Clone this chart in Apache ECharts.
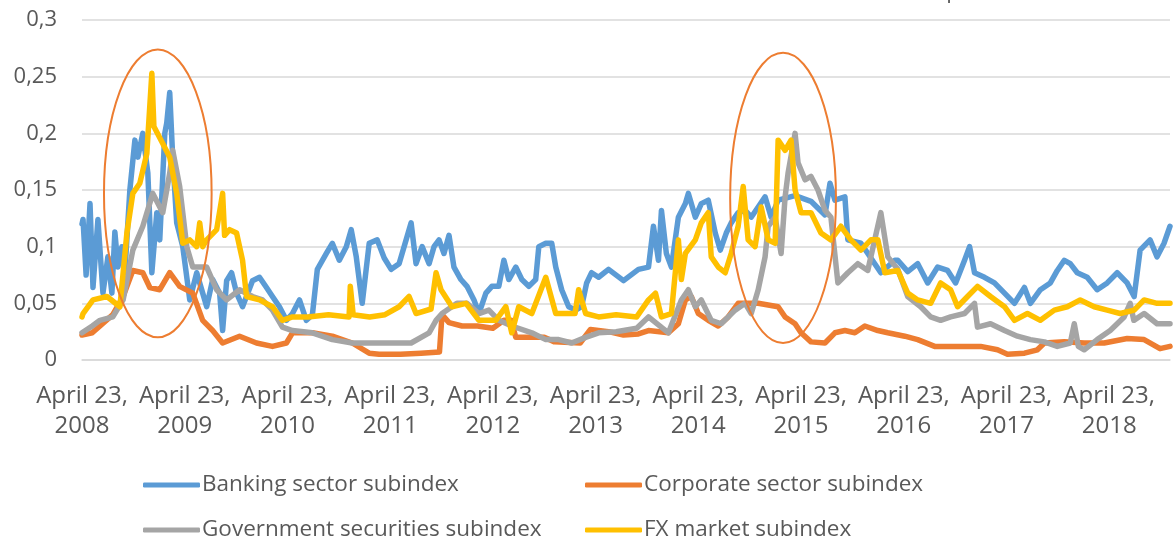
<!DOCTYPE html>
<html><head><meta charset="utf-8">
<script src="https://cdn.jsdelivr.net/npm/echarts@6/dist/echarts.min.js"></script>
<style>html,body{margin:0;padding:0;background:#fff;overflow:hidden}#c{width:1173px;height:541px}</style>
</head><body><div id="c"></div>
<script>
// x values: years elapsed since April 23, 2008; y values: subindex level
const startYear = 2008;
const yTicks = [0, 0.05, 0.1, 0.15, 0.2, 0.25, 0.3];
const seriesNames = ['Banking sector subindex','Corporate sector subindex','Government securities subindex','FX market subindex'];

const banking = [[0,0.120],[0.010,0.124],[0.040,0.075],[0.078,0.138],[0.107,0.064],[0.155,0.124],[0.204,0.059],[0.252,0.091],[0.291,0.059],[0.320,0.113],[0.350,0.082],[0.388,0.100],[0.417,0.077],[0.466,0.150],[0.515,0.194],[0.544,0.179],[0.592,0.200],[0.641,0.165],[0.680,0.077],[0.728,0.130],[0.757,0.106],[0.806,0.200],[0.825,0.209],[0.854,0.236],[0.883,0.179],[0.922,0.121],[0.981,0.100],[1.049,0.053],[1.117,0.077],[1.175,0.059],[1.214,0.047],[1.272,0.071],[1.340,0.059],[1.369,0.026],[1.408,0.070],[1.456,0.077],[1.505,0.059],[1.563,0.047],[1.660,0.070],[1.728,0.073],[1.796,0.064],[1.854,0.056],[1.922,0.047],[1.990,0.035],[2.049,0.041],[2.117,0.053],[2.184,0.035],[2.243,0.040],[2.291,0.080],[2.379,0.094],[2.437,0.103],[2.505,0.088],[2.573,0.100],[2.621,0.115],[2.670,0.091],[2.728,0.050],[2.796,0.103],[2.874,0.106],[2.942,0.090],[3.010,0.080],[3.087,0.085],[3.204,0.121],[3.252,0.085],[3.311,0.100],[3.379,0.085],[3.427,0.100],[3.476,0.106],[3.524,0.094],[3.573,0.110],[3.621,0.082],[3.689,0.071],[3.748,0.065],[3.816,0.053],[3.864,0.041],[3.932,0.059],[3.990,0.065],[4.058,0.065],[4.107,0.088],[4.155,0.071],[4.223,0.082],[4.282,0.071],[4.350,0.065],[4.417,0.071],[4.447,0.100],[4.515,0.103],[4.573,0.103],[4.612,0.082],[4.670,0.062],[4.738,0.047],[4.806,0.044],[4.864,0.047],[4.913,0.068],[4.961,0.077],[5.029,0.073],[5.126,0.080],[5.272,0.070],[5.417,0.080],[5.515,0.082],[5.563,0.118],[5.612,0.088],[5.641,0.132],[5.689,0.094],[5.738,0.082],[5.806,0.126],[5.874,0.138],[5.903,0.147],[5.971,0.126],[6.029,0.138],[6.097,0.141],[6.165,0.112],[6.214,0.097],[6.272,0.112],[6.320,0.121],[6.388,0.130],[6.456,0.132],[6.515,0.126],[6.583,0.135],[6.650,0.144],[6.709,0.126],[6.777,0.141],[6.942,0.145],[7.097,0.140],[7.233,0.128],[7.282,0.156],[7.330,0.141],[7.427,0.144],[7.456,0.106],[7.583,0.103],[7.777,0.077],[7.913,0.088],[7.942,0.088],[8.039,0.078],[8.136,0.085],[8.233,0.068],[8.330,0.082],[8.427,0.079],[8.505,0.068],[8.592,0.088],[8.641,0.100],[8.689,0.077],[8.786,0.073],[8.883,0.068],[8.981,0.059],[9.078,0.050],[9.175,0.064],[9.233,0.050],[9.330,0.062],[9.427,0.068],[9.495,0.079],[9.563,0.088],[9.621,0.085],[9.689,0.077],[9.786,0.073],[9.883,0.062],[9.981,0.068],[10.078,0.077],[10.175,0.068],[10.243,0.056],[10.301,0.097],[10.398,0.106],[10.466,0.091],[10.534,0.103],[10.592,0.118]];

const corporate = [[0,0.022],[0.100,0.024],[0.175,0.030],[0.300,0.040],[0.400,0.056],[0.495,0.079],[0.592,0.077],[0.660,0.064],[0.757,0.062],[0.854,0.077],[0.951,0.065],[1.078,0.059],[1.175,0.035],[1.272,0.026],[1.369,0.015],[1.534,0.021],[1.699,0.015],[1.854,0.012],[1.990,0.015],[2.049,0.024],[2.243,0.024],[2.437,0.021],[2.631,0.015],[2.796,0.006],[2.893,0.005],[3.100,0.005],[3.300,0.006],[3.480,0.007],[3.505,0.040],[3.573,0.033],[3.700,0.030],[3.850,0.030],[4.000,0.028],[4.107,0.035],[4.180,0.035],[4.223,0.020],[4.500,0.020],[4.600,0.016],[4.850,0.015],[4.950,0.027],[5.126,0.025],[5.272,0.022],[5.417,0.023],[5.515,0.026],[5.709,0.024],[5.806,0.032],[5.874,0.053],[5.932,0.056],[6.000,0.041],[6.097,0.035],[6.194,0.030],[6.291,0.038],[6.388,0.050],[6.583,0.050],[6.777,0.047],[6.845,0.038],[6.942,0.032],[7.000,0.024],[7.097,0.016],[7.233,0.015],[7.330,0.024],[7.427,0.026],[7.524,0.024],[7.621,0.030],[7.748,0.026],[7.845,0.024],[8.010,0.021],[8.136,0.018],[8.301,0.012],[8.524,0.012],[8.748,0.012],[8.913,0.009],[9.010,0.005],[9.175,0.006],[9.301,0.009],[9.369,0.015],[9.563,0.016],[9.757,0.015],[9.951,0.015],[10.175,0.019],[10.340,0.018],[10.495,0.010],[10.592,0.012]];

const government = [[0,0.024],[0.100,0.030],[0.175,0.035],[0.300,0.038],[0.400,0.053],[0.495,0.097],[0.592,0.118],[0.689,0.147],[0.786,0.130],[0.854,0.165],[0.883,0.185],[0.951,0.153],[1.020,0.100],[1.078,0.082],[1.214,0.082],[1.311,0.062],[1.408,0.053],[1.534,0.062],[1.660,0.056],[1.757,0.053],[1.854,0.044],[1.951,0.029],[2.049,0.026],[2.243,0.024],[2.437,0.018],[2.631,0.015],[2.825,0.015],[3.000,0.015],[3.204,0.015],[3.379,0.024],[3.447,0.035],[3.505,0.041],[3.650,0.050],[3.748,0.050],[3.864,0.041],[3.961,0.044],[4.058,0.035],[4.184,0.030],[4.379,0.024],[4.515,0.018],[4.641,0.018],[4.767,0.015],[4.903,0.020],[5.029,0.024],[5.200,0.025],[5.400,0.028],[5.515,0.038],[5.709,0.024],[5.835,0.053],[5.903,0.062],[5.971,0.047],[6.029,0.053],[6.126,0.035],[6.223,0.032],[6.359,0.044],[6.456,0.050],[6.515,0.041],[6.583,0.062],[6.650,0.091],[6.680,0.118],[6.748,0.126],[6.806,0.094],[6.845,0.144],[6.874,0.165],[6.942,0.200],[6.971,0.174],[7.039,0.159],[7.097,0.162],[7.165,0.150],[7.233,0.132],[7.291,0.126],[7.359,0.068],[7.456,0.077],[7.553,0.085],[7.650,0.079],[7.777,0.130],[7.845,0.091],[7.942,0.080],[8.039,0.056],[8.165,0.047],[8.262,0.038],[8.359,0.035],[8.456,0.038],[8.592,0.041],[8.689,0.050],[8.718,0.029],[8.845,0.032],[8.981,0.026],[9.107,0.021],[9.233,0.018],[9.369,0.016],[9.495,0.012],[9.621,0.015],[9.660,0.032],[9.700,0.012],[9.757,0.009],[9.883,0.018],[10.010,0.026],[10.146,0.038],[10.204,0.050],[10.240,0.035],[10.340,0.041],[10.466,0.032],[10.592,0.032]];

const fxMarket = [[0,0.038],[0.010,0.041],[0.107,0.053],[0.243,0.056],[0.369,0.047],[0.437,0.112],[0.495,0.147],[0.563,0.156],[0.631,0.182],[0.680,0.253],[0.700,0.206],[0.786,0.191],[0.854,0.179],[0.922,0.147],[0.981,0.103],[1.049,0.106],[1.117,0.100],[1.146,0.121],[1.175,0.100],[1.214,0.106],[1.311,0.115],[1.369,0.147],[1.388,0.110],[1.437,0.115],[1.505,0.112],[1.563,0.088],[1.602,0.056],[1.728,0.053],[1.854,0.047],[1.951,0.035],[2.049,0.038],[2.200,0.038],[2.400,0.040],[2.600,0.038],[2.612,0.065],[2.640,0.040],[2.800,0.038],[2.950,0.040],[3.087,0.047],[3.184,0.056],[3.252,0.041],[3.398,0.045],[3.447,0.077],[3.495,0.062],[3.602,0.047],[3.738,0.050],[3.864,0.035],[4.029,0.035],[4.126,0.047],[4.184,0.024],[4.252,0.047],[4.379,0.041],[4.515,0.073],[4.612,0.041],[4.800,0.041],[4.835,0.062],[4.903,0.041],[5.029,0.038],[5.200,0.040],[5.400,0.038],[5.515,0.053],[5.583,0.059],[5.641,0.038],[5.738,0.041],[5.806,0.106],[5.835,0.071],[5.874,0.094],[5.971,0.106],[6.029,0.121],[6.097,0.130],[6.126,0.091],[6.194,0.082],[6.262,0.077],[6.320,0.094],[6.388,0.118],[6.437,0.153],[6.485,0.106],[6.553,0.100],[6.612,0.135],[6.680,0.106],[6.748,0.103],[6.777,0.194],[6.845,0.185],[6.903,0.194],[6.942,0.150],[7.000,0.130],[7.097,0.130],[7.194,0.112],[7.291,0.106],[7.388,0.118],[7.485,0.106],[7.583,0.097],[7.680,0.106],[7.748,0.106],[7.816,0.077],[7.942,0.079],[8.039,0.059],[8.136,0.053],[8.262,0.050],[8.359,0.068],[8.456,0.062],[8.524,0.047],[8.621,0.056],[8.718,0.065],[8.845,0.056],[8.981,0.047],[9.078,0.035],[9.204,0.041],[9.330,0.035],[9.466,0.044],[9.592,0.047],[9.718,0.053],[9.854,0.047],[9.981,0.044],[10.107,0.041],[10.243,0.044],[10.340,0.053],[10.466,0.050],[10.592,0.050]];

// highlighted crisis periods: [centerX, centerY, halfWidthYears, halfHeight]
const crisisEllipses = [[0.738, 0.147, 0.524, 0.127],[6.825, 0.143, 0.515, 0.128]];

const colors = ['#5B9BD5','#ED7D31','#A5A5A5','#FFC000'];
const FONT = '"Open Sans", "Noto Sans", sans-serif';
const TXT = '#595959';
const allData = [banking, corporate, government, fxMarket];

const chart = echarts.init(document.getElementById('c'), null, {renderer:'canvas'});
const legendBase = {orient:'vertical', top:472, height:90, padding:0, itemGap:19, itemWidth:57, itemHeight:5, icon:'roundRect',
  textStyle:{fontSize:22.5, color:TXT, fontFamily:FONT, lineHeight:26, padding:[0,0,0,-3]}};
chart.setOption({
  animation:false,
  color: colors,
  grid:{left:82, right:0, top:20, bottom:181, containLabel:false},
  legend:[
    Object.assign({left:143, data:[seriesNames[0], seriesNames[2]]}, legendBase),
    Object.assign({left:585, data:[seriesNames[1], seriesNames[3]]}, legendBase)
  ],
  xAxis:{type:'value', min:0, max:10.592, interval:1,
    axisLine:{show:true, lineStyle:{color:'#D9D9D9', width:1.5}},
    axisTick:{show:false}, splitLine:{show:false},
    axisLabel:{margin:21, fontSize:24, lineHeight:30, color:TXT, fontFamily:FONT,
      formatter: v => (Math.abs(v - Math.round(v)) < 1e-6) ? ('April 23,\n' + (startYear + Math.round(v))) : ''}},
  yAxis:{type:'value', min:yTicks[0], max:yTicks[yTicks.length-1], interval:0.05,
    axisLine:{show:false}, axisTick:{show:false},
    splitLine:{lineStyle:{color:'#D9D9D9', width:1.5}},
    axisLabel:{margin:25, fontSize:22, color:TXT, fontFamily:FONT,
      formatter: v => String(Number(v.toFixed(2))).replace('.', ',')}},
  series: allData.map((d,i) => ({
    name: seriesNames[i], type:'line', data:d, showSymbol:false, symbol:'none',
    lineStyle:{width:5.5, color:colors[i], join:'round', cap:'round'},
    itemStyle:{color:colors[i]}
  }))
});

const g = crisisEllipses.map(e => {
  const c = chart.convertToPixel({gridIndex:0}, [e[0], e[1]]);
  const r = chart.convertToPixel({gridIndex:0}, [e[0] + e[2], e[1] + e[3]]);
  return {type:'ellipse', z:100, shape:{cx:c[0], cy:c[1], rx:Math.abs(r[0]-c[0]), ry:Math.abs(c[1]-r[1])},
    style:{fill:null, stroke:'#ED7D31', lineWidth:2}};
});
g.push({type:'text', x:820, y:-19, z:100, style:{text:'Source: compiled based on the data of the (Bank', fontSize:22, fill:TXT, fontFamily:FONT}});
chart.setOption({graphic:g});
</script></body></html>
